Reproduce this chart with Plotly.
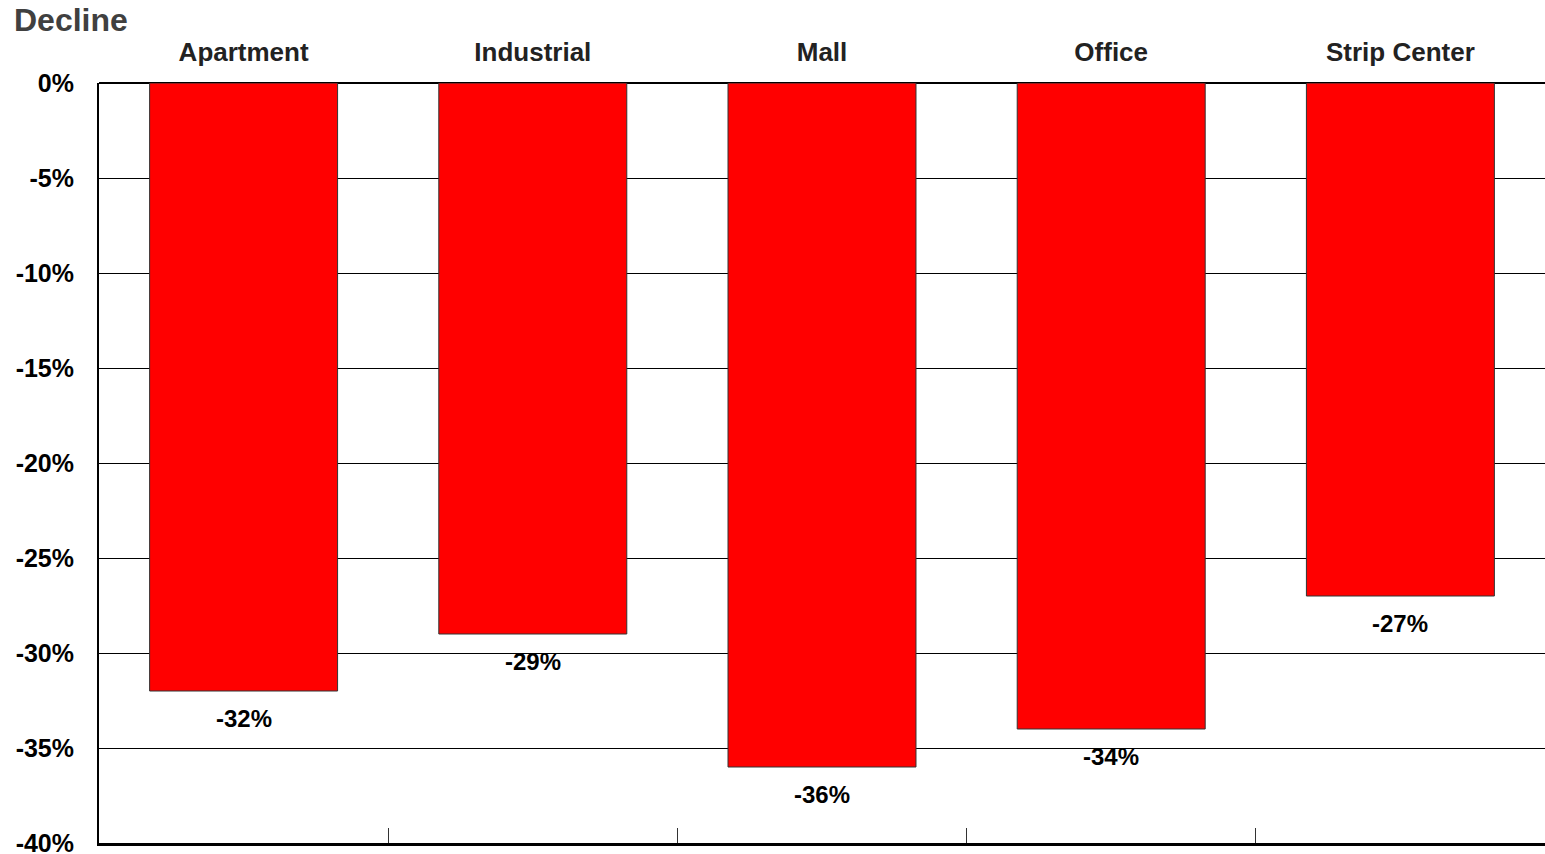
import plotly.graph_objects as go

# Property types and their value declines (%)
categories = ["Apartment", "Industrial", "Mall", "Office", "Strip Center"]
declines = [-32, -29, -36, -34, -27]
value_labels = ["-32%", "-29%", "-36%", "-34%", "-27%"]

# Y axis ticks (hyphen-minus labels)
y_ticks = [0, -5, -10, -15, -20, -25, -30, -35, -40]
y_tick_labels = ["0%", "-5%", "-10%", "-15%", "-20%", "-25%", "-30%", "-35%", "-40%"]

positions = list(range(len(categories)))
boundaries = [p + 0.5 for p in positions[:-1]]
x_range = [-0.5, len(categories) - 0.5]

FONT = "Liberation Sans, Arial, sans-serif"

fig = go.Figure()

fig.add_trace(go.Bar(
    x=positions,
    y=declines,
    width=0.65,
    marker=dict(color="#FF0000", line=dict(color="#333333", width=1)),
    xaxis="x",
    yaxis="y",
    hoverinfo="skip",
))

# invisible companion trace so the top category axis is drawn
fig.add_trace(go.Scatter(
    x=positions,
    y=declines,
    mode="markers",
    marker=dict(opacity=0),
    xaxis="x2",
    yaxis="y",
    hoverinfo="skip",
))

# Value labels below each bar end
for p, v, t in zip(positions, declines, value_labels):
    fig.add_annotation(
        x=p, y=v, xref="x", yref="y",
        text=t, showarrow=False,
        yanchor="middle", yshift=-27,
        font=dict(family=FONT, size=24, color="#000000", weight="bold"),
    )

fig.update_layout(
    width=1545,
    height=854,
    margin=dict(l=99, r=0, t=83, b=11),
    paper_bgcolor="white",
    plot_bgcolor="white",
    showlegend=False,
    title=dict(
        text="Decline",
        x=14 / 1545, xanchor="left",
        y=1 - 20 / 854, yanchor="middle",
        font=dict(family=FONT, size=32, color="#404040", weight="bold"),
    ),
    # bottom axis: frame line and category-boundary ticks
    xaxis=dict(
        range=x_range,
        tickvals=boundaries,
        showticklabels=False,
        ticks="inside",
        ticklen=15,
        tickwidth=1,
        tickcolor="#333333",
        showline=True,
        linecolor="#000000",
        linewidth=3,
        showgrid=False,
        zeroline=False,
        automargin=False,
        fixedrange=True,
    ),
    # top axis: category names
    xaxis2=dict(
        range=x_range,
        overlaying="x",
        side="top",
        tickvals=positions,
        ticktext=categories,
        ticks="",
        showline=False,
        showgrid=False,
        zeroline=False,
        ticklabelstandoff=16,
        tickfont=dict(family=FONT, size=26, color="#222222", weight="bold"),
        automargin=False,
        fixedrange=True,
    ),
    yaxis=dict(
        range=[-40.0001, 0],
        tickvals=y_ticks,
        ticktext=y_tick_labels,
        ticks="",
        showgrid=True,
        gridcolor="#000000",
        gridwidth=1,
        showline=True,
        linecolor="#000000",
        linewidth=2,
        zeroline=True,
        zerolinecolor="#000000",
        zerolinewidth=2,
        ticklabelstandoff=18,
        ticklabeloverflow="allow",
        tickfont=dict(family=FONT, size=25, color="#000000", weight="bold"),
        automargin=False,
        fixedrange=True,
    ),
)

fig.write_html("out.html")
